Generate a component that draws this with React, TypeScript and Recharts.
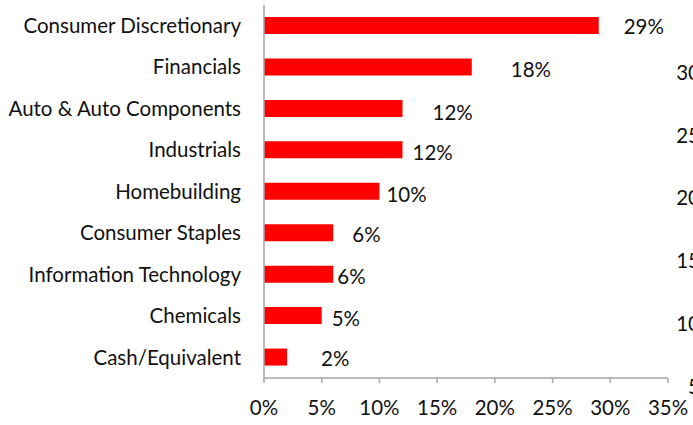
import React from 'react';
import { Bar, BarChart, LabelList, XAxis, YAxis } from 'recharts';

// sector weights, top to bottom
const sectors = [
  'Consumer Discretionary',
  'Financials',
  'Auto & Auto Components',
  'Industrials',
  'Homebuilding',
  'Consumer Staples',
  'Information Technology',
  'Chemicals',
  'Cash/Equivalent',
];
const weights = [29, 18, 12, 12, 10, 6, 6, 5, 2];
const xTicks = [0, 5, 10, 15, 20, 25, 30, 35];

// label nudges (hand placed in the source deck)
const labelDx = [25, 39, 30, 10, 7, 19, 4, 10, 34];
const labelDy = [0, 2, 4, 2, 3, 1, 2, 2, 1];

// stray axis values peeking in from the neighbouring chart
const strayTicks = ['30', '25', '20', '15', '10', '5'];

const FONT = 'Lato, sans-serif';
const FS = 20.5;
const data = sectors.map((name, i) => ({ name, value: weights[i] }));

const PctLabel = (props: any) => {
  const { x, y, width, height, value, index } = props;
  return (
    <text
      x={x + width + labelDx[index]}
      y={y + height / 2 + labelDy[index]}
      dominantBaseline="central"
      fontSize={FS}
      fontFamily={FONT}
      fill="#111"
    >
      {value}%
    </text>
  );
};

export default function App() {
  return (
    <div style={{ position: 'absolute', left: 0, top: 0, width: 693, height: 425, background: '#fff', overflow: 'hidden' }}>
      <BarChart
        layout="vertical"
        width={693}
        height={425}
        data={data}
        margin={{ top: 5, right: 25, bottom: 0, left: 0 }}
        barSize={17}
      >
        <XAxis
          type="number"
          domain={[0, 35]}
          ticks={xTicks}
          tickFormatter={(v) => `${v}%`}
          height={47}
          tickSize={5}
          tickMargin={17}
          axisLine={{ stroke: '#a6a6a6', strokeWidth: 1.5 }}
          tickLine={{ stroke: '#a6a6a6', strokeWidth: 1.5 }}
          tick={{ fontSize: FS, fontFamily: FONT, fill: '#111' }}
          interval={0}
        />
        <YAxis
          type="category"
          dataKey="name"
          width={264}
          tickLine={false}
          tickSize={0}
          tickMargin={23}
          axisLine={{ stroke: '#a6a6a6', strokeWidth: 1.5 }}
          tick={{ fontSize: FS, fontFamily: FONT, fill: '#111' }}
          interval={0}
        />
        <Bar dataKey="value" fill="#ff0000" isAnimationActive={false}>
          <LabelList dataKey="value" content={<PctLabel />} />
        </Bar>
      </BarChart>
      <svg width={693} height={425} style={{ position: 'absolute', left: 0, top: 0, pointerEvents: 'none' }}>
        {strayTicks.map((t, i) => (
          <text
            key={t}
            x={700}
            y={72 + i * 62.7}
            textAnchor="end"
            dominantBaseline="central"
            fontSize={FS}
            fontFamily={FONT}
            fill="#111"
          >
            {t}
          </text>
        ))}
      </svg>
    </div>
  );
}
